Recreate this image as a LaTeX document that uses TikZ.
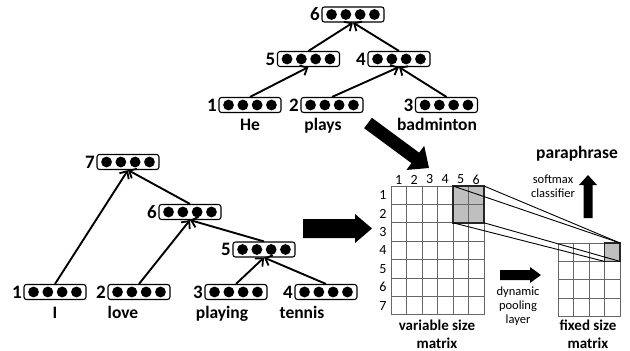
\documentclass[tikz,border=0pt]{standalone}
\usepackage{fontspec}
\setmainfont{Carlito}
\usetikzlibrary{calc,arrows.meta}
\begin{document}
\begin{tikzpicture}[x=1pt,y=-1pt,
  vec/.style={draw, line width=1.1pt, rounded corners=2.5pt, minimum width=62pt, minimum height=15pt, inner sep=0pt},
  num/.style={font=\fontsize{19}{19}\selectfont\bfseries, anchor=east, inner sep=1pt},
  word/.style={font=\fontsize{17.5}{18}\selectfont\bfseries, inner sep=0pt, anchor=base},
  edge/.style={line width=1.9pt, -{Straight Barb[length=6pt,width=11pt,line width=1.8pt]}},
  gridline/.style={draw=black!60, line width=0.9pt},
  idx/.style={font=\fontsize{14}{14}\selectfont, inner sep=0pt},
  mlabel/.style={font=\fontsize{15}{18}\selectfont\bfseries, align=center, inner sep=0pt},
  small/.style={font=\fontsize{12.5}{14}\selectfont, align=center, inner sep=0pt},
  proj/.style={line width=0.9pt}]
\useasboundingbox (0,0) rectangle (630,351);

\newcommand\vecbox[3]{%
  \node[vec] (#1) at (#2) {};
  \foreach \k in {-1.5,-0.5,0.5,1.5} \fill ($(#1.center)+(\k*14.3,0)$) circle (5.4pt);
  \node[num] at ([xshift=-0.5pt]#1.west) {#3};
}
\newcommand\fatarrow[6]{% name, tail, tip, body half, head half, head length
  \coordinate (#1H) at ($(#3)!#6!(#2)$);
  \fill ($(#2)!#4!90:(#3)$) -- ($(#1H)!#4!90:(#3)$) -- ($(#1H)!#5!90:(#3)$) -- (#3)
    -- ($(#1H)!#5!-90:(#3)$) -- ($(#1H)!#4!-90:(#3)$) -- ($(#2)!#4!-90:(#3)$) -- cycle;
}

% ---------- top tree ----------
\vecbox{t6}{353,14.5}{6}
\vecbox{t5}{308.5,59}{5}
\vecbox{t4}{399,59}{4}
\vecbox{t1}{250,105}{1}
\vecbox{t2}{332,105}{2}
\vecbox{t3}{446.5,105}{3}
\node[word] (wHe) at (250,130) {He};
\node[word] (wplays) at (323,130) {plays};
\node[word] (wbad) at (437,130) {badminton};
\draw[edge] (t1.north) -- (t5.south);
\draw[edge] (t5.north) -- (t6.south);
\draw[edge] (t4.north) -- (t6.south);
\draw[edge] (t2.north) -- (t4.south);
\draw[edge] (t3.north) -- (t4.south);

% ---------- bottom tree ----------
\vecbox{b7}{128,162}{7}
\vecbox{b6}{190,212}{6}
\vecbox{b5}{264,249.5}{5}
\vecbox{b1}{55,292}{1}
\vecbox{b2}{139,292}{2}
\vecbox{b3}{236,292}{3}
\vecbox{b4}{326,292}{4}
\node[word] (wI) at (55,318) {I};
\node[word] (wlove) at (123,318) {love};
\node[word] (wplaying) at (222,318) {playing};
\node[word] (wtennis) at (302,318) {tennis};
\draw[edge] (b1.north) -- (b7.south);
\draw[edge] (b6.north) -- (b7.south);
\draw[edge] (b2.north) -- (b6.south);
\draw[edge] (b5.north) -- (b6.south);
\draw[edge] (b3.north) -- (b5.south);
\draw[edge] (b4.north) -- (b5.south);

% ---------- fat arrows ----------
\coordinate (dA) at (368,123); \coordinate (dB) at (429,168);
\fatarrow{d}{dA}{dB}{6.5pt}{15pt}{17pt}
\coordinate (hA) at (303,228.5); \coordinate (hB) at (372,228.5);
\fatarrow{h}{hA}{hB}{9.5pt}{14.5pt}{17pt}
\coordinate (pA) at (500,275); \coordinate (pB) at (541,275);
\fatarrow{p}{pA}{pB}{5pt}{8pt}{11pt}
\coordinate (uA) at (588,218); \coordinate (uB) at (588,175);
\fatarrow{u}{uA}{uB}{4.5pt}{9pt}{10pt}

% ---------- variable size matrix ----------
\fill[black!25] (453,186) rectangle (484,222.8);
\foreach \i in {0,...,6} \draw[gridline] (391+\i*15.5,186) -- (391+\i*15.5,314.8);
\foreach \j in {0,...,7} \draw[gridline] (391,186+\j*18.4) -- (484,186+\j*18.4);
\draw[line width=1.5pt, black!85] (453,186) rectangle (484,222.8);
\foreach \i in {1,...,6} \node[idx] (c\i) at (391+\i*15.5-7.75,179.5) {\i};
\foreach \j in {1,...,7} \node[idx] (r\j) at (383,186+\j*18.4-9.2) {\j};
\node[mlabel] (vlab) at (437,334) {variable size\\matrix};

% ---------- fixed size matrix ----------
\fill[black!25] (604.5,243) rectangle (620,261.4);
\foreach \i in {0,...,4} \draw[gridline] (558+\i*15.5,243) -- (558+\i*15.5,316.6);
\foreach \j in {0,...,4} \draw[gridline] (558,243+\j*18.4) -- (620,243+\j*18.4);
\draw[line width=1.5pt, black!85] (604.5,243) rectangle (620,261.4);
\node[mlabel] (flab) at (588,334) {fixed size\\matrix};

% ---------- projection lines ----------
\coordinate (bTL) at (453,186); \coordinate (bTR) at (484,186);
\coordinate (bBL) at (453,222.8); \coordinate (bBR) at (484,222.8);
\coordinate (sTR) at (620,243); \coordinate (sBL) at (604.5,261.4); \coordinate (sBR) at (620,261.4);
\draw[proj] (bTL) -- (sTR);
\draw[proj] (bTR) -- (sTR);
\draw[proj] (bBL) -- (sBL);
\draw[proj] (bBR) -- (sBR);

% ---------- texts ----------
\node[font=\fontsize{17.5}{18}\selectfont\bfseries, inner sep=0pt] (para) at (577,153.5) {paraphrase};
\node[small] (soft) at (553,186) {softmax\\classifier};
\node[small] (dyn) at (518,306) {dynamic\\pooling\\layer};
\end{tikzpicture}
\end{document}
